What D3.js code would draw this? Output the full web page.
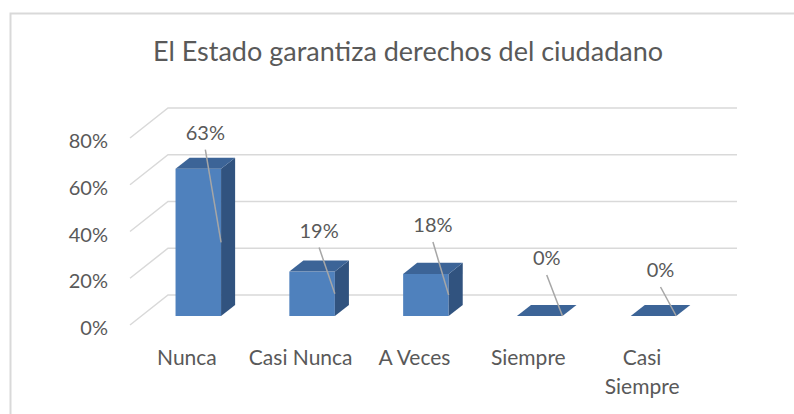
<!DOCTYPE html>
<html>
<head>
<meta charset="utf-8">
<script src="https://cdn.jsdelivr.net/npm/d3@7"></script>
<style>
  body { margin: 0; background: #fff; }
  text { font-family: Lato, "Open Sans", sans-serif; fill: #595959; }
</style>
</head>
<body>
<div id="chart"></div>
<script>
// Data
var categories = ["Nunca", "Casi Nunca", "A Veces", "Siempre", "Casi Siempre"];
var values = [0.63, 0.19, 0.18, 0, 0];
var valueLabels = ["63%", "19%", "18%", "0%", "0%"];
var yTicks = [0, 0.2, 0.4, 0.6, 0.8];
var chartTitle = "El Estado garantiza derechos del ciudadano";

// Layout
var svgWidth = 794, svgHeight = 414;
var frontLeft = 130, frontRight = 699, front0 = 325, front80 = 138;
var depth = { x: 38, y: -30 };       // full floor depth
var barStart = 0.3, barDepth = 0.37;  // bar position in depth
// manual nudges of the data labels above each bar (px)
var labelLift = [29, 34, 42, 51, 39];

var svg = d3.select("#chart").append("svg")
  .attr("width", svgWidth)
  .attr("height", svgHeight);

svg.append("rect")
  .attr("x", 10.5).attr("y", 13.5)
  .attr("width", 1000).attr("height", 1000)
  .attr("fill", "#fff")
  .attr("stroke", "#d9d9d9")
  .attr("stroke-width", 2);

// Scales
var x = d3.scaleBand().domain(categories).range([frontLeft, frontRight]);
var y = d3.scaleLinear().domain([0, 0.8]).range([front0, front80]);
var barW = x.bandwidth() * 0.4;

// Title
svg.append("text")
  .attr("x", 408).attr("y", 61)
  .attr("text-anchor", "middle")
  .attr("font-size", 27)
  .text(chartTitle);

// Grid: side wall + back wall
svg.append("g").selectAll("path")
  .data(yTicks)
  .enter().append("path")
  .attr("d", function(t) {
    var y0 = y(t);
    return "M" + frontLeft + "," + y0 +
      "L" + (frontLeft + depth.x) + "," + (y0 + depth.y) +
      "L" + (frontRight + depth.x) + "," + (y0 + depth.y);
  })
  .attr("fill", "none")
  .attr("stroke", "#d9d9d9")
  .attr("stroke-width", 1.5);

// Y tick labels
svg.append("g").selectAll("text")
  .data(yTicks)
  .enter().append("text")
  .attr("x", 108)
  .attr("y", function(t) { return y(t) + 3; })
  .attr("dy", "0.36em")
  .attr("text-anchor", "end")
  .attr("font-size", 20)
  .text(function(t) { return d3.format(".0%")(t); });

// Bars
var ox = depth.x * barStart, oy = depth.y * barStart;
var dx = depth.x * barDepth, dy = depth.y * barDepth;

var bars = svg.append("g").selectAll("g")
  .data(categories)
  .enter().append("g");

function barGeom(c, i) {
  var left = x(c) + (x.bandwidth() - barW) / 2 + ox;
  var base = y(0) + oy;
  var top = y(values[i]) + oy;
  return { left: left, right: left + barW, base: base, top: top };
}

bars.filter(function(c, i) { return values[i] > 0; })
  .append("rect")
  .attr("x", function(c, i) { return barGeom(c, i).left; })
  .attr("y", function(c, i) { return barGeom(c, i).top; })
  .attr("width", barW)
  .attr("height", function(c, i) { var g = barGeom(c, i); return g.base - g.top; })
  .attr("fill", "#4f81bd");

bars.filter(function(c, i) { return values[i] > 0; })
  .append("path")
  .attr("d", function(c, i) {
    var g = barGeom(c, i);
    return "M" + g.right + "," + g.top + "L" + (g.right + dx) + "," + (g.top + dy) +
      "L" + (g.right + dx) + "," + (g.base + dy) + "L" + g.right + "," + g.base + "Z";
  })
  .attr("fill", "#31537f");

bars.append("path")
  .attr("d", function(c, i) {
    var g = barGeom(c, i);
    return "M" + g.left + "," + g.top + "L" + (g.left + dx) + "," + (g.top + dy) +
      "L" + (g.right + dx) + "," + (g.top + dy) + "L" + g.right + "," + g.top + "Z";
  })
  .attr("fill", "#3c6497");

// Data labels with leader lines
bars.append("line")
  .attr("x1", function(c, i) { var g = barGeom(c, i); return (g.left + g.right + dx) / 2; })
  .attr("y1", function(c, i) { return barGeom(c, i).top - labelLift[i] + 10; })
  .attr("x2", function(c, i) { return barGeom(c, i).right; })
  .attr("y2", function(c, i) { var g = barGeom(c, i); return (g.top + g.base) / 2; })
  .attr("stroke", "#a6a6a6")
  .attr("stroke-width", 1.5);

bars.append("text")
  .attr("x", function(c, i) { var g = barGeom(c, i); return (g.left + g.right + dx) / 2; })
  .attr("y", function(c, i) { return barGeom(c, i).top - labelLift[i]; })
  .attr("text-anchor", "middle")
  .attr("font-size", 20)
  .text(function(c, i) { return valueLabels[i]; });

// Category labels
var catText = svg.append("g").selectAll("text")
  .data(categories)
  .enter().append("text")
  .attr("x", function(c) { return x(c) + x.bandwidth() / 2; })
  .attr("y", y(0) + 40)
  .attr("text-anchor", "middle")
  .attr("font-size", 21);

catText.each(function(c) {
  var t = d3.select(this);
  var lines = c === "Casi Siempre" ? ["Casi", "Siempre"] : [c];
  lines.forEach(function(l, k) {
    t.append("tspan")
      .attr("x", x(c) + x.bandwidth() / 2)
      .attr("dy", k === 0 ? 0 : 29)
      .text(l);
  });
});
</script>
</body>
</html>
